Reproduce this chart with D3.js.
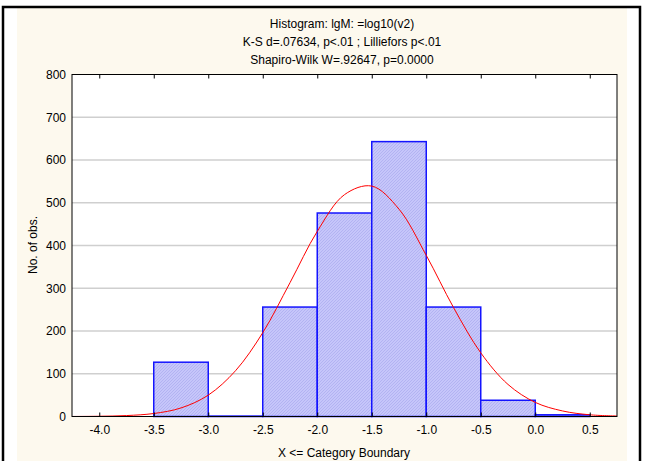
<!DOCTYPE html>
<html>
<head>
<meta charset="UTF-8">
<script src="https://d3js.org/d3.v7.min.js"></script>
<style>
  body { margin: 0; background: #fff; font-family: "Liberation Sans", Arial, sans-serif; }
  text { font-family: "Liberation Sans", Arial, sans-serif; }
</style>
</head>
<body>
<div id="chart"></div>
<script>
// histogram bins (lower edge) and counts
const binStarts = [-3.5, -3.0, -2.5, -2.0, -1.5, -1.0, -0.5, 0.0];
const counts = [127, 1, 256, 476, 643, 256, 38, 4];
const binWidth = 0.5;

// expected normal curve
const curveX = [-4.25, -4.0, -3.75, -3.5, -3.25, -3.0, -2.75, -2.5, -2.25, -2.0, -1.75, -1.5, -1.25, -1.0, -0.75, -0.5, -0.25, 0.0, 0.25, 0.5, 0.75];
const curveY = [0.1, 0.6, 2.2, 7, 20, 50, 107, 196, 313, 433, 519, 539, 485, 377, 255, 149, 75, 33, 13, 4, 1.2];

const xTicks = [-4.0, -3.5, -3.0, -2.5, -2.0, -1.5, -1.0, -0.5, 0.0, 0.5];
const yTicks = [0, 100, 200, 300, 400, 500, 600, 700, 800];

const titleLines = ["Histogram: lgM: =log10(v2)", "K-S d=.07634, p<.01 ; Lilliefors p<.01", "Shapiro-Wilk W=.92647, p=0.0000"];

const W = 645, H = 461;
const plot = { left: 72, right: 617, top: 74.5, bottom: 416.5 };
const fs = 12;

const svg = d3.select("#chart").append("svg")
  .attr("width", W).attr("height", H);

const defs = svg.append("defs");
const pat = defs.append("pattern")
  .attr("id", "hatch").attr("patternUnits", "userSpaceOnUse")
  .attr("width", 3).attr("height", 3);
pat.append("rect").attr("width", 3).attr("height", 3).attr("fill", "#c6c6fa");
pat.append("path").attr("d", "M0,3 L3,0 M-1,1 L1,-1 M2,4 L4,2")
  .attr("stroke", "#aeaef0").attr("stroke-width", 0.8);

// frame and cream panel
svg.append("rect").attr("x", 17).attr("y", 8).attr("width", 610).attr("height", H).attr("fill", "#fdf9ee");
svg.append("rect").attr("x", 3).attr("y", 7).attr("width", 637).attr("height", H + 10)
  .attr("fill", "none").attr("stroke", "#000").attr("stroke-width", 2.5);

const x = d3.scaleLinear().domain([-4.25, 0.75]).range([plot.left, plot.right]);
const y = d3.scaleLinear().domain([0, 800]).range([plot.bottom, plot.top]);

svg.append("rect")
  .attr("x", plot.left).attr("y", plot.top)
  .attr("width", plot.right - plot.left).attr("height", plot.bottom - plot.top)
  .attr("fill", "#fff");

// grid
svg.append("g").selectAll("line")
  .data(yTicks.slice(1, -1))
  .enter().append("line")
  .attr("x1", plot.left).attr("x2", plot.right)
  .attr("y1", d => y(d)).attr("y2", d => y(d))
  .attr("stroke", "#cfcfcf").attr("stroke-width", 1.5);

// bars
svg.append("g").selectAll("rect")
  .data(binStarts.map((s, i) => ({ x0: s, x1: s + binWidth, n: counts[i] })))
  .enter().append("rect")
  .attr("x", d => x(d.x0))
  .attr("y", d => y(d.n))
  .attr("width", d => x(d.x1) - x(d.x0))
  .attr("height", d => y(0) - y(d.n))
  .attr("fill", "url(#hatch)")
  .attr("stroke", "#1414ff")
  .attr("stroke-width", 1.5);

// normal curve
const line = d3.line()
  .x((d, i) => x(curveX[i]))
  .y(d => y(d))
  .curve(d3.curveCatmullRom);
svg.append("path")
  .datum(curveY)
  .attr("d", line)
  .attr("fill", "none")
  .attr("stroke", "#ff0000")
  .attr("stroke-width", 1);

// plot border
svg.append("rect")
  .attr("x", plot.left).attr("y", plot.top)
  .attr("width", plot.right - plot.left).attr("height", plot.bottom - plot.top)
  .attr("fill", "none").attr("stroke", "#000").attr("stroke-width", 1);

// axes
const xAxis = svg.append("g")
  .attr("transform", `translate(0,${plot.bottom})`)
  .call(d3.axisBottom(x).tickValues(xTicks).tickFormat(d => d.toFixed(1)).tickSizeInner(-4).tickSizeOuter(0).tickPadding(9));
xAxis.select(".domain").remove();
xAxis.selectAll("line").attr("stroke", "#000");
xAxis.selectAll("text").attr("font-size", fs).attr("fill", "#000")
  .attr("font-family", "Liberation Sans, Arial, sans-serif");

const xTop = svg.append("g")
  .attr("transform", `translate(0,${plot.top})`)
  .call(d3.axisTop(x).tickValues(xTicks).tickFormat("").tickSizeInner(-4).tickSizeOuter(0));
xTop.select(".domain").remove();

const yAxis = svg.append("g")
  .attr("transform", `translate(${plot.left},0)`)
  .call(d3.axisLeft(y).tickValues(yTicks).tickSize(0).tickPadding(6));
yAxis.select(".domain").remove();
yAxis.selectAll("text").attr("font-size", fs).attr("fill", "#000")
  .attr("font-family", "Liberation Sans, Arial, sans-serif");

// titles
svg.append("g").selectAll("text")
  .data(titleLines)
  .enter().append("text")
  .attr("x", 342)
  .attr("y", (d, i) => 28 + i * 18)
  .attr("text-anchor", "middle")
  .attr("font-size", fs)
  .text(d => d);

svg.append("text")
  .attr("x", 344).attr("y", 457)
  .attr("text-anchor", "middle").attr("font-size", fs)
  .text("X <= Category Boundary");

svg.append("text")
  .attr("transform", `translate(37,245) rotate(-90)`)
  .attr("text-anchor", "middle").attr("font-size", fs)
  .text("No. of obs.");
</script>
</body>
</html>
